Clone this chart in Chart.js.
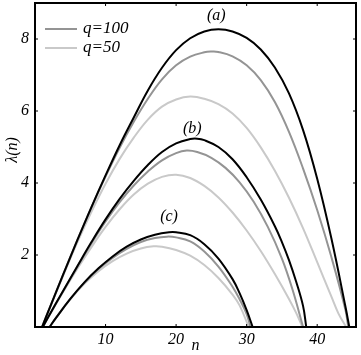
<!DOCTYPE html>
<html>
<head>
<meta charset="utf-8">
<script src="https://cdn.jsdelivr.net/npm/chart.js@4"></script>
<style>
  html, body { margin: 0; padding: 0; background: #fff; }
  #wrap { width: 361px; height: 355px; }
</style>
</head>
<body>
<div id="wrap"><canvas id="lambdaChart"></canvas></div>
<script>
const xTicks = [10, 20, 30, 40];
const yTicks = [2, 4, 6, 8];
const legendNames = ['q=100', 'q=50'];
const curveNames = ['(a)', '(b)', '(c)'];

// (a) – schwarz, q=100, q=50
const nA0   = [1, 2, 4, 6, 8, 10, 12, 14, 16, 18, 20, 22, 24, 26, 28, 30, 32, 34, 36, 38, 40, 42, 44, 44.55];
const lamA0 = [0, 0.49, 1.46, 2.41, 3.33, 4.21, 5.05, 5.82, 6.57, 7.2, 7.69, 8.02, 8.21, 8.27, 8.21, 8.03, 7.71, 7.21, 6.49, 5.47, 4.12, 2.47, 0.57, 0];
const nA100   = [1, 2, 4, 6, 8, 10, 12, 14, 16, 18, 20, 22, 24, 25, 26, 28, 30, 32, 34, 36, 38, 40, 42, 44, 44.4];
const lamA100 = [0, 0.49, 1.46, 2.41, 3.32, 4.18, 4.98, 5.7, 6.34, 6.88, 7.27, 7.51, 7.63, 7.65, 7.64, 7.52, 7.27, 6.86, 6.25, 5.42, 4.4, 3.25, 1.95, 0.48, 0];
const nA50   = [1, 2, 4, 6, 8, 10, 12, 14, 16, 18, 20, 22, 24, 26, 28, 30, 32, 34, 36, 38, 40, 42, 43, 44.1];
const lamA50 = [0, 0.48, 1.43, 2.35, 3.2, 3.98, 4.67, 5.26, 5.76, 6.12, 6.32, 6.4, 6.34, 6.19, 5.93, 5.53, 4.99, 4.34, 3.59, 2.74, 1.8, 0.85, 0.38, 0];

// (b)
const nB0   = [1.1, 2, 4, 6, 8, 10, 12, 14, 16, 18, 20, 22, 23, 24, 26, 28, 30, 32, 34, 35, 36, 37, 38, 38.45];
const lamB0 = [0, 0.32, 1.01, 1.69, 2.36, 2.99, 3.56, 4.06, 4.5, 4.86, 5.1, 5.22, 5.23, 5.19, 5.0, 4.66, 4.16, 3.54, 2.8, 2.36, 1.86, 1.27, 0.58, 0];
const nB100   = [1.1, 2, 4, 6, 8, 10, 12, 14, 16, 18, 20, 21.5, 23, 25, 27, 29, 31, 33, 35, 36.5, 38];
const lamB100 = [0, 0.32, 1.0, 1.67, 2.32, 2.93, 3.47, 3.93, 4.32, 4.63, 4.83, 4.9, 4.86, 4.7, 4.42, 4.02, 3.48, 2.78, 1.9, 1.04, 0];
const nB50   = [1.1, 2, 4, 6, 8, 10, 12, 14, 16, 18, 20, 22, 24, 26, 28, 30, 32, 34, 36, 37, 37.9];
const lamB50 = [0, 0.31, 0.98, 1.62, 2.22, 2.78, 3.27, 3.68, 3.98, 4.17, 4.23, 4.14, 3.92, 3.6, 3.18, 2.68, 2.11, 1.47, 0.78, 0.4, 0];

// (c)
const nC0   = [2.07, 3, 5, 7, 9, 11, 13, 15, 17, 19, 20, 22, 24, 26, 28, 29, 30, 30.85];
const lamC0 = [0, 0.26, 0.78, 1.24, 1.63, 1.96, 2.23, 2.43, 2.56, 2.63, 2.63, 2.55, 2.3, 1.9, 1.33, 0.94, 0.47, 0];
const nC100   = [2.07, 3, 5, 7, 9, 11, 13, 15, 17, 18.7, 20, 22, 24, 26, 28, 29, 30, 30.55];
const lamC100 = [0, 0.26, 0.78, 1.23, 1.61, 1.92, 2.17, 2.36, 2.47, 2.51, 2.49, 2.38, 2.1, 1.68, 1.12, 0.77, 0.36, 0];
const nC50   = [2.07, 3, 5, 7, 9, 11, 13, 15, 16.8, 18, 20, 22, 24, 26, 28, 29, 30.3];
const lamC50 = [0, 0.26, 0.77, 1.2, 1.55, 1.83, 2.04, 2.18, 2.24, 2.23, 2.14, 1.98, 1.72, 1.36, 0.9, 0.6, 0];

const BLACK = '#000000';
const GRAY = '#949494';
const LIGHT = '#c9c9c9';
const FONT = 'Liberation Serif, Times New Roman, serif';

function pts(ns, ls) {
  return ns.map((n, i) => ({ x: n, y: ls[i] }));
}

function curve(label, ns, ls, color) {
  return {
    label: label,
    data: pts(ns, ls),
    borderColor: color,
    backgroundColor: color,
    borderWidth: 2,
    pointRadius: 0,
    pointHoverRadius: 0,
    tension: 0.4,
    fill: false
  };
}

// Rahmen, Innen-Ticks, Legende, Kurvenbeschriftung, y-Titel
const decorPlugin = {
  id: 'decor',
  afterDraw(chart) {
    const { ctx, chartArea: a, scales } = chart;
    const x = scales.x, y = scales.y;
    ctx.save();
    ctx.strokeStyle = '#000';
    ctx.lineWidth = 1;
    ctx.beginPath();
    xTicks.forEach(v => {
      const px = x.getPixelForValue(v);
      ctx.moveTo(px, a.bottom); ctx.lineTo(px, a.bottom - 3);
      ctx.moveTo(px, a.top); ctx.lineTo(px, a.top + 3);
    });
    yTicks.forEach(v => {
      const py = y.getPixelForValue(v);
      ctx.moveTo(a.left, py); ctx.lineTo(a.left + 3, py);
      ctx.moveTo(a.right, py); ctx.lineTo(a.right - 3, py);
    });
    ctx.stroke();

    ctx.lineWidth = 2;
    ctx.strokeRect(a.left, a.top, a.right - a.left, a.bottom - a.top);

    // Legende
    const legendColors = [GRAY, LIGHT];
    legendNames.forEach((t, i) => {
      const ly = a.top + 26 + i * 19;
      ctx.strokeStyle = legendColors[i];
      ctx.lineWidth = 2;
      ctx.beginPath();
      ctx.moveTo(a.left + 10, ly);
      ctx.lineTo(a.left + 42, ly);
      ctx.stroke();
      ctx.fillStyle = '#000';
      ctx.font = 'italic 17px ' + FONT;
      ctx.textAlign = 'left';
      ctx.textBaseline = 'middle';
      ctx.fillText(t, a.left + 48, ly);
    });

    ctx.fillStyle = '#000';
    ctx.font = 'italic 16px ' + FONT;
    ctx.textAlign = 'center';
    ctx.textBaseline = 'middle';
    const spots = [[25.7, 8.65], [22.3, 5.5], [19.0, 3.05]];
    curveNames.forEach((t, i) => {
      ctx.fillText(t, x.getPixelForValue(spots[i][0]), y.getPixelForValue(spots[i][1]));
    });

    ctx.translate(13, 150);
    ctx.rotate(-Math.PI / 2);
    ctx.fillText('λ(n)', 0, 0);
    ctx.restore();
  }
};

const ctx = document.getElementById('lambdaChart');

new Chart(ctx, {
  type: 'line',
  data: {
    datasets: [
      curve('', nA0, lamA0, BLACK),
      curve('', nB0, lamB0, BLACK),
      curve('', nC0, lamC0, BLACK),
      curve(legendNames[0], nA100, lamA100, GRAY),
      curve('', nB100, lamB100, GRAY),
      curve('', nC100, lamC100, GRAY),
      curve(legendNames[1], nA50, lamA50, LIGHT),
      curve('', nB50, lamB50, LIGHT),
      curve('', nC50, lamC50, LIGHT)
    ]
  },
  options: {
    responsive: true,
    maintainAspectRatio: false,
    animation: false,
    layout: {
      padding: { top: 3, right: 5, left: 0, bottom: 0 }
    },
    scales: {
      x: {
        type: 'linear',
        min: 0,
        max: 45.5,
        afterBuildTicks: s => { s.ticks = xTicks.map(v => ({ value: v })); },
        afterFit: s => { s.height = 28; s.paddingLeft = 0; s.paddingRight = 0; },
        grid: { display: false, drawTicks: false },
        border: { display: false },
        ticks: {
          padding: 3,
          color: '#000',
          font: { family: FONT, size: 16, style: 'italic' }
        },
        title: {
          display: true,
          text: 'n',
          color: '#000',
          padding: { top: 0, bottom: 0 },
          font: { family: FONT, size: 16, style: 'italic' }
        }
      },
      y: {
        min: 0,
        max: 9,
        afterBuildTicks: s => { s.ticks = yTicks.map(v => ({ value: v })); },
        afterFit: s => { s.width = 35; s.paddingTop = 0; s.paddingBottom = 0; },
        grid: { display: false, drawTicks: false },
        border: { display: false },
        ticks: {
          padding: 6,
          color: '#000',
          font: { family: FONT, size: 16, style: 'italic' }
        }
      }
    },
    plugins: {
      legend: { display: false },
      tooltip: { enabled: false }
    }
  },
  plugins: [decorPlugin]
});
</script>
</body>
</html>
